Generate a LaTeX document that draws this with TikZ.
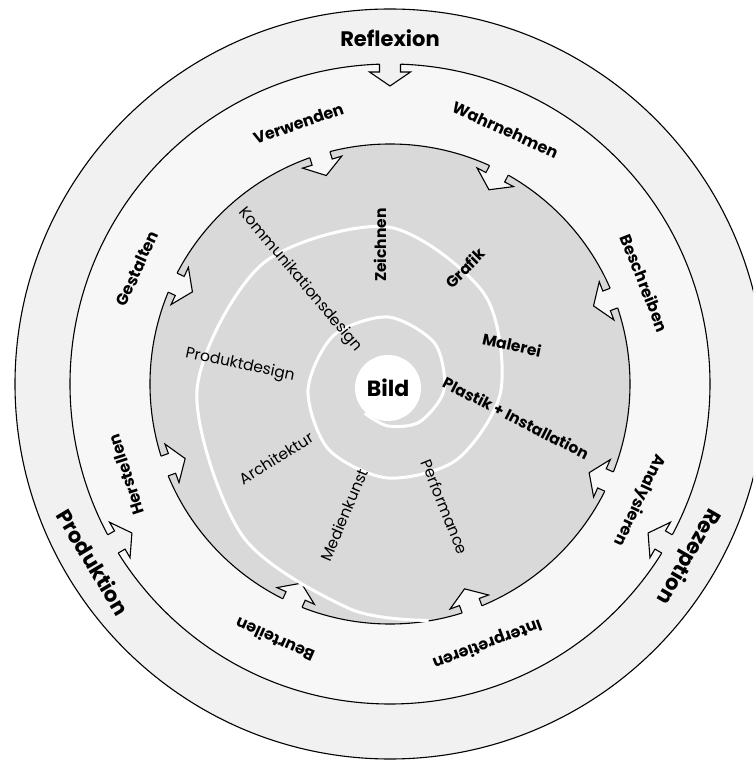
\documentclass[tikz,border=0pt]{standalone}
\usepackage{fontspec}
\setmainfont{Poppins}
\definecolor{outring}{HTML}{F1F1F1}
\definecolor{midring}{HTML}{F7F7F7}
\definecolor{core}{HTML}{D9D9D9}
\begin{document}
\begin{tikzpicture}[x=1pt, y=1pt,
  ringline/.style = {draw = black, line width = 1.1pt},
  outerlab/.style = {font = \fontsize{21}{24}\selectfont\bfseries},
  midlab/.style = {font = \fontsize{16}{18}\selectfont\bfseries},
  artlab/.style = {font = \fontsize{15.5}{18}\selectfont},
  artbold/.style = {font = \fontsize{15.5}{18}\selectfont\bfseries},
  pics/outnotch/.style = {code = {
    \fill[outring] (322, 10.5) -- (312, 10.5) -- (312, 20.5) -- (298, 0) -- (312, -20.5) -- (312, -10.5) -- (322, -10.5) -- cycle;
    \draw[ringline] (319.8, 10.5) -- (312, 10.5) -- (312, 20.5) -- (298, 0) -- (312, -20.5) -- (312, -10.5) -- (319.8, -10.5);
  }},
  pics/innotch/.style = {code = {
    \fill[midring] (242, 10.5) -- (232, 10.5) -- (232, 20.5) -- (218, 0) -- (232, -20.5) -- (232, -10.5) -- (242, -10.5) -- cycle;
    \draw[ringline] (239.8, 10.5) -- (232, 10.5) -- (232, 20.5) -- (218, 0) -- (232, -20.5) -- (232, -10.5) -- (239.8, -10.5);
  }}]
  \useasboundingbox (-390, -376) rectangle (363, 384);
  \clip (-390, -376) rectangle (363, 384);
  \fill[white] (-390, -376) rectangle (363, 384);

  % rings
  \draw[ringline, fill = outring] (0, 0) circle (375);
  \draw[ringline, fill = midring] (0, 0) circle (320);
  \pic[rotate = 90] {outnotch};
  \pic[rotate = 210] {outnotch};
  \pic[rotate = 330] {outnotch};
  \draw[ringline, fill = core] (0, 0) circle (240);
  \pic[rotate = 21] {innotch};
  \pic[rotate = 63] {innotch};
  \pic[rotate = 107] {innotch};
  \pic[rotate = 155] {innotch};
  \pic[rotate = 200] {innotch};
  \pic[rotate = 246] {innotch};
  \pic[rotate = 290] {innotch};
  \pic[rotate = 336] {innotch};

  % spiral
  \draw[white, line width = 3pt, shift = {(-2, -6)}] plot[smooth] coordinates {
    (225:33) (270:36) (315:45) (360:56) (405:66) (450:73) (495:77) (540:80)
    (585:84) (630:88) (675:98) (720:113) (765:136) (810:163) (855:178)
    (900:191) (945:206) (980:222) (1000:234)};
  \fill[white] (-2, -4) circle (33);

  % outer ring
  \node[outerlab] (reflexion) at (90:346) {Reflexion};
  \node[outerlab, rotate = -120] (rezeption) at (-30:344) {Rezeption};
  \node[outerlab, rotate = -59] (produktion) at (211:346) {Produktion};

  % middle ring
  \node[midlab, rotate = 19.4] (verwenden) at (109.4:276) {Verwenden};
  \node[midlab, rotate = -24.4] (wahrnehmen) at (65.6:279) {Wahrnehmen};
  \node[midlab, rotate = 65.4] (gestalten) at (155.4:278) {Gestalten};
  \node[midlab, rotate = -68.4] (beschreiben) at (21.6:274) {Beschreiben};
  \node[midlab, rotate = 108] (herstellen) at (199:279) {Herstellen};
  \node[midlab, rotate = -115] (analysieren) at (-25:275) {Analysieren};
  \node[midlab, rotate = 155.8] (beurteilen) at (245.8:281) {Beurteilen};
  \node[midlab, rotate = 200.5] (interpretieren) at (-69.5:277) {Interpretieren};

  % core
  \node[font = \fontsize{22}{26}\selectfont\bfseries] (bild) at (-2, -4) {Bild};
  \node[artbold, rotate = 90] (zeichnen) at (-10, 139) {Zeichnen};
  \node[artbold, rotate = 45] (grafik) at (75, 116) {Grafik};
  \node[artbold, rotate = -12] (malerei) at (122, 39) {Malerei};
  \node[artbold, rotate = -27] (plastik) at (126, -34) {Plastik + Installation};
  \node[artlab, rotate = -50] (kommdesign) at (-90, 104) {Kommunikationsdesign};
  \node[artlab, rotate = -12] (produktdesign) at (-150, 19) {Produktdesign};
  \node[artlab, rotate = 32] (architektur) at (-114, -74) {Architektur};
  \node[artlab, rotate = 67] (medienkunst) at (-46, -131) {Medienkunst};
  \node[artlab, rotate = -68] (performance) at (55, -123) {Performance};
\end{tikzpicture}
\end{document}
